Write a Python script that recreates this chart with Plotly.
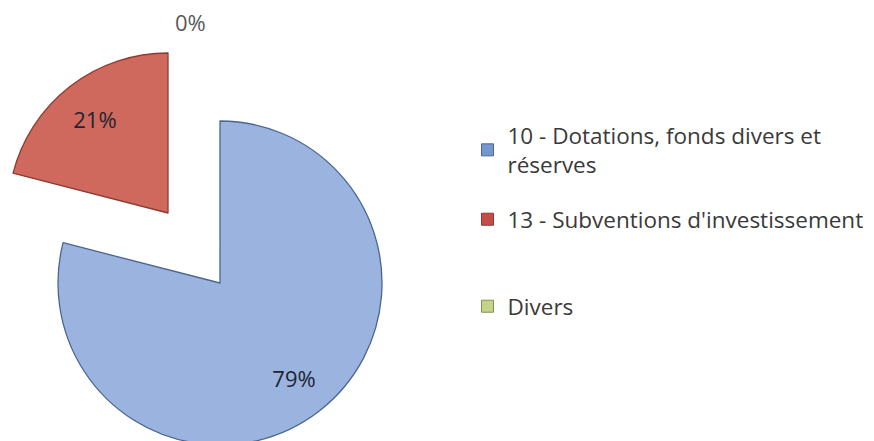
import plotly.graph_objects as go

# ---- data ----
labels = ["10 - Dotations, fonds divers et réserves",
          "13 - Subventions d'investissement",
          "Divers"]
legend_names = ["10 - Dotations, fonds divers et<br>réserves",
                "13 - Subventions d'investissement",
                "Divers"]
values = [79, 21, 0]

# ---- style ----
W, H = 874, 441
FONT = "Open Sans"
fill_colors = ["#9AB4DF", "#D0695D", "#C4D69A"]
edge_colors = ["#4B6591", "#8E3A31", "#7E9548"]
legend_colors = ["#7597CF", "#C44E47", "#C3D48A"]
TRANSP = "rgba(0,0,0,0)"
LABEL_HOLE = 0.49   # places the inside labels ~3/4 of the radius out

# pixel geometry of each exploded slice (center x, center y from top, radius)
slice_geom = [(212, 275, 162), (160, 205, 160)]


def domain_of(cx, cy, r):
    return dict(x=[max(0.0, (cx - r) / W), min(1.0, (cx + r) / W)],
                y=[max(0.0, 1 - (cy + r) / H), min(1.0, 1 - (cy - r) / H)])


fig = go.Figure()

for i, (cx, cy, r) in enumerate(slice_geom):
    n = len(values)
    cols = [fill_colors[k] if k == i else TRANSP for k in range(n)]
    lcols = [edge_colors[k] if k == i else TRANSP for k in range(n)]
    tt = ["%{percent:.0%}" if k == i else "" for k in range(n)]
    # filled slice
    fig.add_trace(go.Pie(
        labels=labels, values=values, sort=False, direction="clockwise",
        rotation=0, textinfo="none",
        marker=dict(colors=cols, line=dict(color=lcols, width=1.3)),
        domain=domain_of(cx, cy, r), showlegend=False, hoverinfo="label+percent",
    ))
    # label layer (same geometry, transparent ring) to place the percentage
    fig.add_trace(go.Pie(
        labels=labels, values=values, sort=False, direction="clockwise",
        rotation=0, hole=LABEL_HOLE,
        marker=dict(colors=[TRANSP] * n, line=dict(width=0)),
        texttemplate=tt, textposition="inside",
        insidetextorientation="horizontal",
        insidetextfont=dict(family=FONT, size=22, color="#1E2430"),
        domain=domain_of(cx, cy, r), showlegend=False, hoverinfo="skip",
    ))

# legend entries (one legend per entry so each can be placed like the original)
legend_x = 459.5 / W
legend_tops = [106.1, 190.1, 277.1]
legend_keys = ["legend", "legend2", "legend3"]
for k in range(len(labels)):
    fig.add_trace(go.Scatter(
        x=[None], y=[None], mode="markers", name=legend_names[k],
        marker=dict(symbol="square", size=12, color=legend_colors[k],
                    line=dict(color=edge_colors[k], width=1)),
        legend=legend_keys[k], showlegend=True, hoverinfo="skip",
    ))

total = sum(values)
fig.add_annotation(x=182 / W, y=1 - 14 / H, xref="paper", yref="paper",
                   xanchor="center", yanchor="middle",
                   text=f"{values[2] / total:.0%}", showarrow=False,
                   font=dict(family=FONT, size=22, color="#5A5A5A"))

legend_common = dict(font=dict(family=FONT, size=22.5, color="#3A3A3A"),
                     bgcolor="rgba(0,0,0,0)", borderwidth=0,
                     xanchor="left", yanchor="top",
                     itemclick=False, itemdoubleclick=False)
layout_legends = {}
for k, key in enumerate(legend_keys):
    layout_legends[key] = dict(x=legend_x, y=1 - legend_tops[k] / H, **legend_common)

fig.update_layout(
    width=W, height=H,
    margin=dict(l=0, r=0, t=0, b=0, pad=0),
    paper_bgcolor="white", plot_bgcolor="white",
    xaxis=dict(visible=False), yaxis=dict(visible=False),
    **layout_legends,
)

fig.write_html("out.html")
